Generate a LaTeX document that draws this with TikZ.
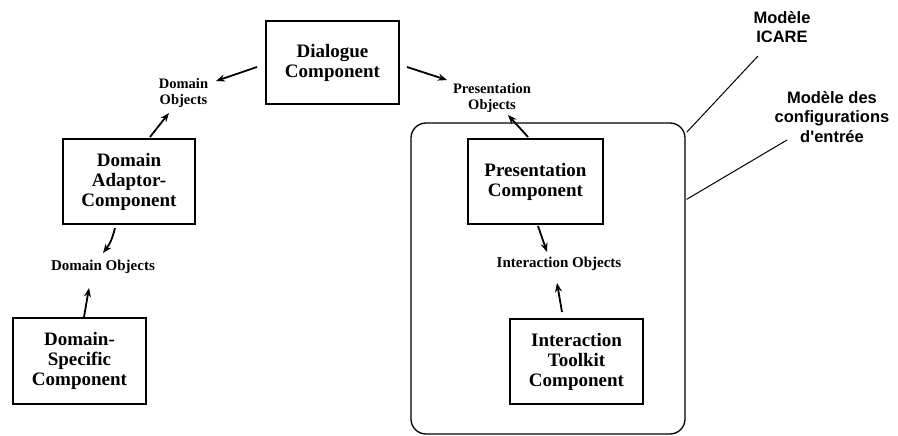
\documentclass[tikz,border=0pt]{standalone}
\usepackage{fontspec}
\setmainfont{Liberation Serif}
\newfontfamily\sansb{Liberation Sans}
\usetikzlibrary{arrows.meta,calc}
\begin{document}
\begin{tikzpicture}[x=1pt,y=-1pt,
  comp/.style={draw,line width=1.6pt,inner sep=0pt,align=center,
    font=\fontsize{19}{20}\selectfont\bfseries},
  lbl/.style={inner sep=0pt,align=center,font=\fontsize{15}{16}\selectfont\bfseries},
  lbls/.style={inner sep=0pt,align=center,font=\fontsize{14.5}{16}\selectfont\bfseries},
  note/.style={inner sep=0pt,align=center,font=\sansb\fontsize{16.5}{19.5}\selectfont\bfseries},
  arr/.style={line width=1.8pt,-{Stealth[length=9pt,width=7pt]}},
  lead/.style={line width=1pt}]
\useasboundingbox (0,0) rectangle (898,436);
% framed region
\node[draw,line width=1.3pt,rounded corners=15pt,minimum width=274pt,minimum height=311pt,inner sep=0pt] (cfg) at (548,278.5) {};
% components
\node[comp,minimum width=133pt,minimum height=83pt] (dlg) at (332.5,62.5) {Dialogue\\Component};
\node[comp,minimum width=132pt,minimum height=85pt] (da) at (129,181.5) {Domain\\Adaptor-\\Component};
\node[comp,minimum width=133pt,minimum height=86pt] (ds) at (79.5,361) {Domain-\\Specific\\Component};
\node[comp,minimum width=135pt,minimum height=85pt] (pc) at (535.5,181.5) {Presentation\\Component};
\node[comp,minimum width=133pt,minimum height=85pt] (it) at (576.5,361.5) {Interaction\\Toolkit\\Component};
% object labels
\node[lbls] (do1) at (183.5,93) {Domain\\Objects};
\node[lbls] (po) at (492,98.5) {Presentation\\Objects};
\node[lbl] (do2) at (103,267) {Domain Objects};
\node[lbl] (io) at (559,264) {Interaction Objects};
% notes
\node[note] (icare) at (782,27) {Modèle\\ICARE};
\node[note] (mce) at (832,117) {Modèle des\\configurations\\d'entrée};
% arrows
\draw[arr] ($(dlg)+(-75.5,4.5)$) -- ($(do1)+(32.5,-12)$);
\draw[arr] ($(dlg)+(74.5,4.5)$) -- ($(po)+(-45,-18.5)$);
\draw[arr] ($(da)+(21,-44.5)$) -- ($(do1)+(-14.5,20)$);
\draw[arr] ($(pc)+(-7.5,-44.5)$) -- ($(po)+(16,16.5)$);
\draw[arr] ($(da)+(-14,46.5)$) to[bend left=12] ($(do2)+(0,-14)$);
\draw[arr] ($(ds)+(4.5,-44)$) -- ($(do2)+(-14,21)$);
\draw[arr] ($(pc)+(2.5,44.5)$) -- ($(io)+(-12,-12)$);
\draw[arr] ($(it)+(-14.5,-49.5)$) -- ($(io)+(-2,19)$);
% leader lines
\draw[lead] ($(cfg.north east)+(1,10)$) -- ($(icare)+(-24,29)$);
\draw[lead] ($(cfg.north east)+(1,77)$) -- ($(mce)+(-45,23)$);
\end{tikzpicture}
\end{document}
